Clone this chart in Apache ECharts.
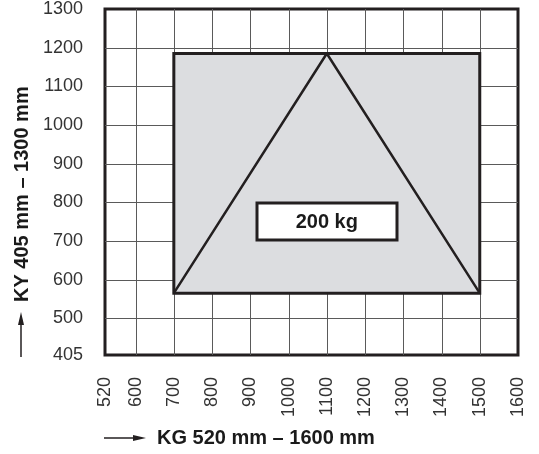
<!DOCTYPE html>
<html>
<head>
<meta charset="utf-8">
<script src="https://cdn.jsdelivr.net/npm/echarts@6/dist/echarts.min.js"></script>
<style>
  html, body { margin: 0; padding: 0; background: #ffffff; }
  #chart { width: 539px; height: 454px; }
</style>
</head>
<body>
<div id="chart"></div>
<script>
// Axis ranges and tick labels
const xRange = [520, 1600];
const yRange = [405, 1300];
const xTicks = [520, 600, 700, 800, 900, 1000, 1100, 1200, 1300, 1400, 1500, 1600];
const yTicks = [405, 500, 600, 700, 800, 900, 1000, 1100, 1200, 1300];

// Interior grid lines
const xGrid = [600, 700, 800, 900, 1000, 1100, 1200, 1300, 1400, 1500];
const yGrid = [500, 600, 700, 800, 900, 1000, 1100, 1200];

// Working area: KG from/to, KY from/to
const areaKG = [700, 1500];
const areaKY = [565, 1185];

// Load triangle corners [KG, KY]
const triangle = [[700, 565], [1100, 1185], [1500, 565]];

// Load label and its anchor
const loadLabel = '200 kg';
const loadPoint = [1100, 750];

const xTitle = 'KG 520 mm – 1600 mm';
const yTitle = 'KY 405 mm – 1300 mm';

const FONT = '"Liberation Sans", Arial, Helvetica, sans-serif';
const INK = '#231f20';

const chart = echarts.init(document.getElementById('chart'), null, { renderer: 'canvas' });

function gridLineItem(isX) {
  return function (params, api) {
    const v = api.value(0);
    let p1, p2;
    if (isX) {
      p1 = api.coord([v, yRange[0]]);
      p2 = api.coord([v, yRange[1]]);
      p1[0] = p2[0] = Math.round(p1[0]) + 0.5;
    } else {
      p1 = api.coord([xRange[0], v]);
      p2 = api.coord([xRange[1], v]);
      p1[1] = p2[1] = Math.round(p1[1]) + 0.5;
    }
    return {
      type: 'line',
      shape: { x1: p1[0], y1: p1[1], x2: p2[0], y2: p2[1] },
      style: { stroke: '#5a5a5a', lineWidth: 1 }
    };
  };
}

const plainNumber = v => String(v);

const option = {
  animation: false,
  backgroundColor: '#ffffff',
  grid: {
    left: 105, right: 21, top: 9, bottom: 99,
    show: true,
    borderColor: INK,
    borderWidth: 3,
    backgroundColor: 'transparent'
  },
  xAxis: {
    type: 'value',
    min: xRange[0],
    max: xRange[1],
    axisLine: { show: false },
    axisTick: { show: false },
    splitLine: { show: false },
    axisLabel: {
      customValues: xTicks,
      formatter: plainNumber,
      rotate: 90,
      margin: 22,
      color: '#333333',
      fontFamily: FONT,
      fontSize: 18
    }
  },
  yAxis: {
    type: 'value',
    min: yRange[0],
    max: yRange[1],
    axisLine: { show: false },
    axisTick: { show: false },
    splitLine: { show: false },
    axisLabel: {
      customValues: yTicks,
      formatter: plainNumber,
      margin: 22,
      color: '#333333',
      fontFamily: FONT,
      fontSize: 18
    }
  },
  series: [
    {
      type: 'custom',
      z: 1,
      silent: true,
      data: xGrid.map(v => [v]),
      encode: { x: 0 },
      renderItem: gridLineItem(true)
    },
    {
      type: 'custom',
      z: 1,
      silent: true,
      data: yGrid.map(v => [v]),
      encode: { y: 0 },
      renderItem: gridLineItem(false)
    },
    {
      type: 'custom',
      z: 2,
      silent: true,
      data: [[areaKG[0], areaKG[1], areaKY[0], areaKY[1]]],
      encode: { x: [0, 1], y: [2, 3] },
      renderItem: function (params, api) {
        const a = api.coord([api.value(0), api.value(3)]);
        const b = api.coord([api.value(1), api.value(2)]);
        return {
          type: 'rect',
          shape: { x: a[0], y: a[1], width: b[0] - a[0], height: b[1] - a[1] },
          style: { fill: '#dcdde0', stroke: INK, lineWidth: 3 }
        };
      }
    },
    {
      type: 'line',
      z: 3,
      silent: true,
      data: triangle,
      showSymbol: false,
      symbol: 'none',
      lineStyle: { color: INK, width: 2.5 }
    },
    {
      // Load capacity tag centred on its anchor point
      type: 'custom',
      z: 4,
      silent: true,
      data: [loadPoint],
      encode: { x: 0, y: 1 },
      renderItem: function (params, api) {
        const c = api.coord([api.value(0), api.value(1)]);
        const w = 140, h = 37;
        return {
          type: 'group',
          children: [
            {
              type: 'rect',
              shape: { x: Math.round(c[0] - w / 2), y: Math.round(c[1] - h / 2), width: w, height: h },
              style: { fill: '#ffffff', stroke: INK, lineWidth: 3 }
            },
            {
              type: 'text',
              x: c[0],
              y: c[1] + 1,
              style: {
                text: loadLabel,
                fill: '#1a1a1a',
                font: 'bold 20px ' + FONT,
                textAlign: 'center',
                textVerticalAlign: 'middle'
              }
            }
          ]
        };
      }
    }
  ],
  graphic: [
    {
      type: 'text',
      x: 157,
      y: 438,
      style: {
        text: xTitle,
        fill: '#1a1a1a',
        font: 'bold 20px ' + FONT,
        textVerticalAlign: 'middle',
        textAlign: 'left'
      }
    },
    {
      type: 'line',
      shape: { x1: 104, y1: 438, x2: 136, y2: 438 },
      style: { stroke: INK, lineWidth: 1.5 }
    },
    {
      type: 'polygon',
      shape: { points: [[146, 438], [133, 435], [133, 441]] },
      style: { fill: INK }
    },
    {
      type: 'text',
      x: 22,
      y: 302,
      rotation: Math.PI / 2,
      style: {
        text: yTitle,
        fill: '#1a1a1a',
        font: 'bold 20px ' + FONT,
        textVerticalAlign: 'middle',
        textAlign: 'left'
      }
    },
    {
      type: 'line',
      shape: { x1: 21, y1: 357, x2: 21, y2: 323 },
      style: { stroke: INK, lineWidth: 1.5 }
    },
    {
      type: 'polygon',
      shape: { points: [[21, 312], [18, 325], [24, 325]] },
      style: { fill: INK }
    }
  ]
};

chart.setOption(option);
</script>
</body>
</html>
